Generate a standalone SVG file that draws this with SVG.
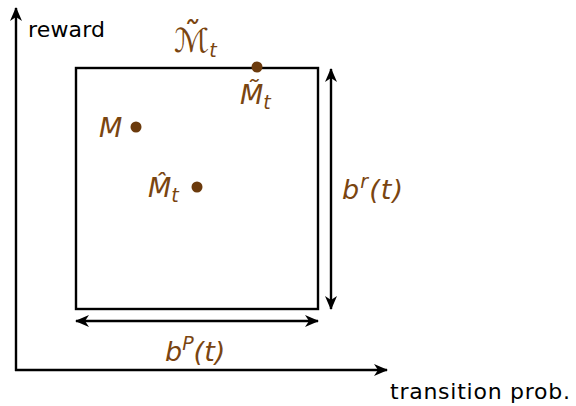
<svg xmlns="http://www.w3.org/2000/svg" width="576" height="406" viewBox="0 0 576 406">
<style>
.ax{stroke:#000;stroke-width:2.4;fill:none}
.lbl{font-family:"DejaVu Sans","Liberation Sans",sans-serif;font-size:22px;fill:#000}
.m{font-family:"DejaVu Sans","Liberation Sans",sans-serif;font-style:italic;font-size:27px;fill:#7a4510}
.sub{font-size:19px}
.dot{fill:#6b3a0c}
</style>
<defs>
<marker id="ah" viewBox="0 0 14 12" refX="13" refY="6" markerWidth="14" markerHeight="12" markerUnits="userSpaceOnUse" orient="auto-start-reverse">
<path d="M0,0 L14,6 L0,12 L4,6 Z" fill="#000"/>
</marker>
</defs>
<rect width="576" height="406" fill="#fff"/>
<g id="connectors">
<line class="ax" x1="16" y1="371" x2="16" y2="8" marker-end="url(#ah)"/>
<line class="ax" x1="15" y1="370" x2="387" y2="370" marker-end="url(#ah)"/>
<line class="ax" x1="331" y1="69" x2="331" y2="309" marker-start="url(#ah)" marker-end="url(#ah)"/>
<line class="ax" x1="76" y1="321" x2="318" y2="321" marker-start="url(#ah)" marker-end="url(#ah)"/>
</g>
<g id="axis-labels">
<text class="lbl" x="28" y="37" textLength="77">reward</text>
<text class="lbl" x="390" y="399" textLength="180">transition prob.</text>
</g>
<g id="box">
<rect x="76" y="68" width="242" height="241" fill="none" stroke="#000" stroke-width="2.4"/>
<text class="m" x="174" y="52"><tspan style="font-size:33px">ℳ̃</tspan><tspan class="sub" dy="5">t</tspan></text>
</g>
<g id="Mtilde">
<circle class="dot" cx="257" cy="67" r="5.5"/>
<text class="m" x="240" y="104">M̃<tspan class="sub" dy="5">t</tspan></text>
</g>
<g id="M">
<circle class="dot" cx="136" cy="127" r="5.5"/>
<text class="m" x="99" y="137">M</text>
</g>
<g id="Mhat">
<circle class="dot" cx="197" cy="187" r="5.5"/>
<text class="m" x="148" y="197">M̂<tspan class="sub" dy="5">t</tspan></text>
</g>
<g id="br">
<text class="m" x="342" y="199" textLength="61">b<tspan class="sub" dy="-11">r</tspan><tspan dy="11">(t)</tspan></text>
</g>
<g id="bP">
<text class="m" x="165" y="361">b<tspan class="sub" dy="-11">P</tspan><tspan dy="11">(t)</tspan></text>
</g>
</svg>
